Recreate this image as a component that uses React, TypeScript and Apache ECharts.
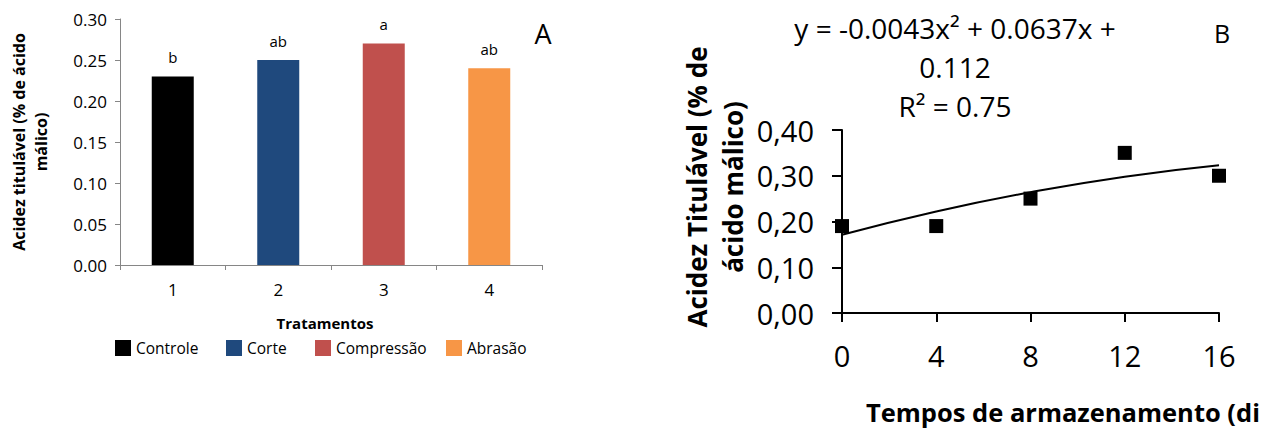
import React, { useEffect, useRef } from "react";
import * as echarts from "echarts";

const FONT = '"Open Sans", "Noto Sans", sans-serif';

// Panel A data
const categories = ["1", "2", "3", "4"];
const treatments = ["Controle", "Corte", "Compressão", "Abrasão"];
const acidity = [0.23, 0.25, 0.27, 0.24];
const letters = ["b", "ab", "a", "ab"];
const barColors = ["#000000", "#1F497D", "#C0504D", "#F79646"];

// Panel B data
const days = [0, 4, 8, 12, 16];
const observed = [0.19, 0.19, 0.25, 0.35, 0.3];
const trend = [0.171, 0.222, 0.264, 0.298, 0.323];

const legendLeft = [115, 226, 315, 446];

export default function App() {
  const ref = useRef<HTMLDivElement>(null);
  useEffect(() => {
    if (!ref.current) return;
    const chart = echarts.init(ref.current, undefined, { renderer: "svg" });
    const grayAxis = { lineStyle: { color: "#868686", width: 1 } };
    const blackAxis = { lineStyle: { color: "#000000", width: 2 } };
    const option: any = {
      animation: false,
      backgroundColor: "#ffffff",
      textStyle: { fontFamily: FONT },
      grid: [
        { left: 120, top: 19, width: 422, height: 246, outerBoundsMode: "none" },
        { left: 842, top: 130, width: 377, height: 183, outerBoundsMode: "none" },
      ],
      legend: treatments.map((t, i) => ({
        data: [t],
        left: legendLeft[i],
        top: 340,
        padding: 0,
        itemWidth: 16,
        itemHeight: 16,
        icon: "rect",
        selectedMode: false,
        textStyle: { fontSize: 15.5, color: "#000", fontFamily: FONT },
      })),
      xAxis: [
        {
          type: "category",
          gridIndex: 0,
          data: categories,
          axisLine: grayAxis,
          axisTick: { show: true, length: 5, lineStyle: { color: "#868686" } },
          axisLabel: { fontSize: 17, color: "#000", margin: 16, fontFamily: FONT },
          splitLine: { show: false },
        },
        {
          type: "value",
          gridIndex: 1,
          min: 0,
          max: 16,
          interval: 4,
          axisLine: { show: true, ...blackAxis },
          axisTick: { show: true, length: 9, lineStyle: { color: "#000", width: 2 } },
          axisLabel: { fontSize: 29, color: "#000", margin: 28, fontFamily: FONT },
          splitLine: { show: false },
        },
      ],
      yAxis: [
        {
          type: "value",
          gridIndex: 0,
          min: 0,
          max: 0.3,
          interval: 0.05,
          axisLine: { show: true, ...grayAxis },
          axisTick: { show: true, length: 5, lineStyle: { color: "#868686" } },
          axisLabel: {
            fontSize: 17,
            color: "#000",
            margin: 13,
            fontFamily: FONT,
            formatter: (v: number) => v.toFixed(2),
          },
          splitLine: { show: false },
        },
        {
          type: "value",
          gridIndex: 1,
          min: 0,
          max: 0.4,
          interval: 0.1,
          axisLine: { show: true, ...blackAxis },
          axisTick: { show: true, length: 10, lineStyle: { color: "#000", width: 2 } },
          axisLabel: {
            fontSize: 29,
            color: "#000",
            margin: 28,
            fontFamily: FONT,
            formatter: (v: number) => v.toFixed(2).replace(".", ","),
          },
          splitLine: { show: false },
        },
      ],
      series: [
        ...treatments.map((t, i) => ({
          type: "bar",
          name: t,
          xAxisIndex: 0,
          yAxisIndex: 0,
          data: categories.map((_c, j) => (j === i ? acidity[i] : "-")),
          barWidth: 42,
          barGap: "-100%",
          itemStyle: { color: barColors[i] },
          label: {
            show: true,
            position: "top",
            distance: 12,
            formatter: letters[i],
            fontSize: 15,
            color: "#000",
            fontFamily: FONT,
          },
        })),
        {
          type: "line",
          name: "Tendência",
          xAxisIndex: 1,
          yAxisIndex: 1,
          data: days.map((d, i) => [d, trend[i]]),
          smooth: true,
          showSymbol: false,
          lineStyle: { color: "#000", width: 2 },
          z: 2,
        },
        {
          type: "scatter",
          name: "Observado",
          xAxisIndex: 1,
          yAxisIndex: 1,
          data: days.map((d, i) => [d, observed[i]]),
          symbol: "rect",
          symbolSize: 14,
          itemStyle: { color: "#000", opacity: 1 },
          z: 3,
        },
      ],
      graphic: [
        {
          type: "text",
          x: 30,
          y: 142,
          rotation: Math.PI / 2,
          style: {
            text: "Acidez titulável (% de ácido\nmálico)",
            align: "center",
            verticalAlign: "middle",
            lineHeight: 22,
            font: `bold 16px ${FONT}`,
            fill: "#000",
          },
        },
        {
          type: "text",
          x: 325,
          y: 323,
          style: {
            text: "Tratamentos",
            align: "center",
            verticalAlign: "middle",
            font: `bold 15px ${FONT}`,
            fill: "#000",
          },
        },
        {
          type: "text",
          x: 543,
          y: 33,
          style: {
            text: "A",
            align: "center",
            verticalAlign: "middle",
            font: `27px ${FONT}`,
            fill: "#000",
          },
        },
        {
          type: "text",
          x: 955,
          y: 67,
          style: {
            text: "y = -0.0043x² + 0.0637x +\n0.112\nR² = 0.75",
            align: "center",
            verticalAlign: "middle",
            lineHeight: 39,
            font: `28px ${FONT}`,
            fill: "#000",
          },
        },
        {
          type: "text",
          x: 1222,
          y: 33,
          style: {
            text: "B",
            align: "center",
            verticalAlign: "middle",
            font: `25px ${FONT}`,
            fill: "#000",
          },
        },
        {
          type: "text",
          x: 715,
          y: 187,
          rotation: Math.PI / 2,
          style: {
            text: "Acidez Titulável (% de\nácido málico)",
            align: "center",
            verticalAlign: "middle",
            lineHeight: 36,
            font: `bold 26px ${FONT}`,
            fill: "#000",
          },
        },
        {
          type: "text",
          x: 866,
          y: 412,
          style: {
            text: "Tempos de armazenamento (dias)",
            align: "left",
            verticalAlign: "middle",
            font: `bold 25.5px ${FONT}`,
            fill: "#000",
            width: 400,
            overflow: "truncate",
            ellipsis: "",
          },
        },
      ],
    };
    chart.setOption(option);
    return () => chart.dispose();
  }, []);
  return (
    <div
      ref={ref}
      style={{ position: "absolute", left: 0, top: 0, width: 1273, height: 430 }}
    />
  );
}
